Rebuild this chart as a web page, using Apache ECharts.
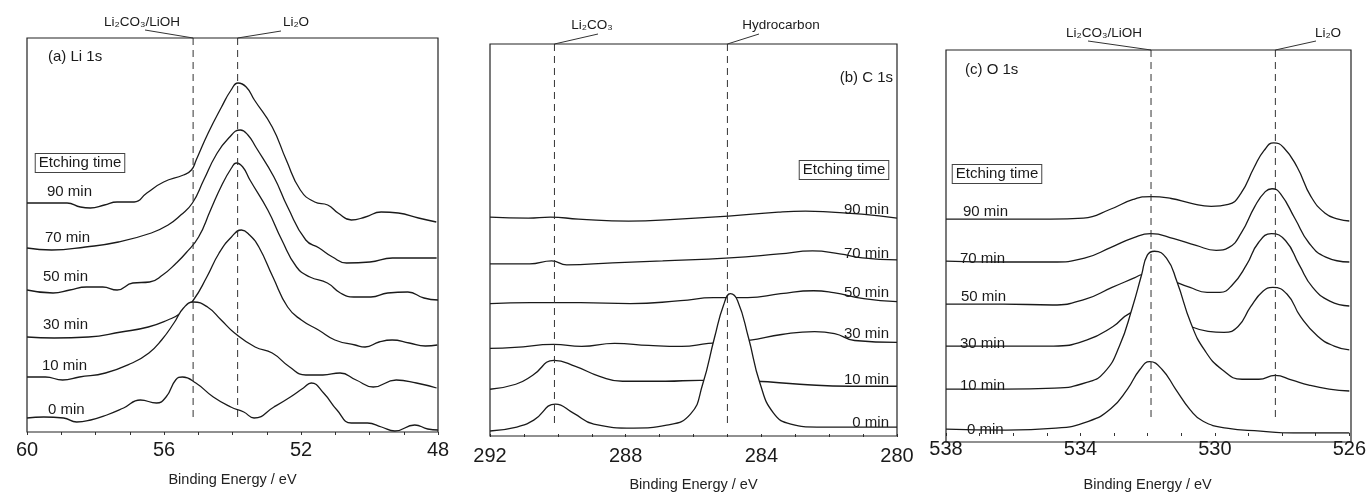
<!DOCTYPE html>
<html><head><meta charset="utf-8">
<script src="https://cdn.jsdelivr.net/npm/echarts@6/dist/echarts.min.js"></script>
<style>html,body{margin:0;padding:0;background:#fff}#c{width:1369px;height:497px}</style>
</head><body><div id="c"></div>
<script>
const FONT = '"Liberation Sans", Arial, Helvetica, sans-serif';
const etchTimes = ['90 min', '70 min', '50 min', '30 min', '10 min', '0 min'];

// ---- (a) Li 1s : [binding energy eV, intensity a.u. incl. offset]
const li_90 = [[60.0,229],[59.33,229],[58.83,229],[58.44,225],[58.15,224],[57.74,227],[57.37,230],[56.87,230],[56.50,239],[56.01,250],[55.43,257],[55.20,262],[55.06,272],[54.71,299],[54.32,325],[54.04,342],[53.84,349],[53.60,345],[53.36,332],[52.84,305],[52.43,272],[52.02,242],[51.60,230],[51.22,227],[50.92,219],[50.53,212],[50.12,215],[49.66,220],[49.16,219],[48.57,214],[48.05,210]];
const li_70 = [[60.0,184],[59.28,182],[58.29,185],[57.33,190],[56.37,199],[55.88,207],[55.51,217],[55.17,229],[54.84,252],[54.48,277],[54.11,294],[53.77,302],[53.55,297],[53.32,285],[52.79,255],[52.39,225],[51.86,192],[51.47,184],[51.08,175],[50.67,169],[49.99,170],[49.33,174],[48.54,174],[48.04,174]];
const li_50 = [[60.0,142],[59.24,139],[58.75,142],[58.26,145],[57.79,145],[57.37,142],[56.91,149],[56.42,150],[56.04,157],[55.64,169],[55.36,179],[54.99,195],[54.64,222],[54.31,247],[54.03,264],[53.89,269],[53.70,265],[53.49,252],[52.97,222],[52.56,192],[52.13,165],[51.74,155],[51.23,149],[50.85,139],[50.46,135],[49.96,135],[49.47,139],[48.88,140],[48.41,134],[48.0,132]];
const li_30 = [[60.0,95],[59.21,94],[58.21,95],[57.25,100],[56.46,105],[55.89,112],[55.51,119],[55.14,132],[54.75,155],[54.39,179],[54.03,195],[53.74,202],[53.50,197],[53.23,185],[52.82,155],[52.39,125],[51.99,112],[51.49,102],[51.01,92],[50.42,87],[50.13,85],[49.72,90],[49.34,92],[48.84,89],[48.37,86],[48.02,87]];
const li_10 = [[60.0,55],[59.46,55],[58.96,52],[58.47,55],[57.71,59],[56.93,69],[56.44,79],[56.07,92],[55.71,109],[55.43,124],[55.14,130],[54.73,125],[54.33,112],[53.94,99],[53.34,85],[52.84,79],[52.33,65],[51.86,57],[51.36,57],[50.86,59],[50.39,52],[49.89,45],[49.22,52],[48.63,49],[48.04,44]];
const li_0 = [[60.0,14],[59.51,15],[58.93,14],[58.55,10],[58.14,12],[57.67,17],[57.18,24],[56.69,32],[56.22,29],[55.94,35],[55.66,52],[55.46,55],[55.07,49],[54.56,35],[54.05,25],[53.67,20],[53.37,14],[52.79,25],[52.31,35],[51.93,44],[51.70,49],[51.34,39],[50.95,22],[50.53,9],[50.06,9],[49.65,5],[49.26,1],[48.68,7],[48.30,3],[48.0,2]];

// ---- (b) C 1s
const c_90 = [[292.0,218],[290.87,217],[290.22,218],[289.39,216],[287.91,214],[286.44,216],[284.97,219],[283.50,223],[282.70,224],[281.93,223],[281.04,221],[280.0,217]];
const c_70 = [[292.0,171],[290.83,171],[290.18,174],[289.74,170],[288.39,172],[286.91,174],[284.93,177],[283.47,181],[282.49,184],[281.69,181],[281.02,177],[280.0,175]];
const c_50 = [[292.0,131],[290.80,132],[290.15,132],[289.33,132],[287.86,131],[286.38,134],[285.41,137],[284.40,137],[283.43,141],[282.46,144],[281.87,142],[280.98,136],[280.0,133]];
const c_30 = [[292.0,86],[291.27,87],[290.12,90],[289.30,88],[288.33,91],[287.32,89],[286.35,88],[285.56,91],[284.37,94],[283.40,100],[282.43,103],[281.84,101],[281.25,94],[280.0,92]];
const c_10 = [[292.0,45],[291.24,50],[290.74,59],[290.11,74],[289.48,68],[288.77,58],[288.09,53],[286.82,53],[285.82,54],[284.16,53],[282.87,50],[281.39,48],[280.0,48]];
const c_0 = [[292.0,3],[291.21,7],[290.71,14],[290.07,30],[289.54,21],[288.94,10],[287.76,6],[286.79,9],[286.09,20],[285.73,50],[285.38,97],[285.11,130],[284.91,141],[284.70,134],[284.38,97],[284.04,51],[283.64,21],[283.13,10],[282.36,7],[280.0,7]];

// ---- (c) O 1s
const o_90 = [[538.0,219],[536.38,219],[534.89,219],[533.91,220],[533.11,229],[532.43,239],[531.90,242],[531.30,240],[530.70,235],[530.11,232],[529.60,234],[529.23,245],[528.83,272],[528.54,289],[528.25,297],[527.95,292],[527.55,272],[527.14,242],[526.72,225],[526.33,219],[526.0,217]];
const o_70 = [[538.0,176],[536.34,175],[534.86,175],[533.88,179],[533.09,190],[532.41,200],[531.91,204],[531.22,199],[530.56,192],[529.96,187],[529.58,190],[529.21,205],[528.81,232],[528.50,247],[528.30,250],[528.05,245],[527.61,219],[527.21,195],[526.70,180],[526.0,175]];
const o_50 = [[538.0,132],[536.31,132],[534.83,131],[533.85,137],[533.06,149],[532.38,159],[532.18,162],[531.90,163],[531.50,160],[531.19,155],[530.74,149],[530.23,144],[529.85,144],[529.47,152],[529.06,172],[528.70,195],[528.32,204],[527.90,197],[527.49,172],[527.09,149],[526.58,135],[526.0,130]];
const o_30 = [[538.0,89],[536.28,89],[534.80,89],[533.82,95],[533.03,109],[532.56,122],[531.90,128],[531.30,120],[530.71,109],[530.20,104],[529.73,103],[529.31,109],[528.94,129],[528.57,145],[528.28,149],[527.85,142],[527.45,119],[526.94,99],[526.45,89],[526.0,85]];
const o_10 = [[538.0,45],[536.25,45],[534.77,46],[533.79,52],[533.29,62],[532.84,89],[532.45,129],[532.18,162],[532.01,182],[531.80,186],[531.44,179],[531.13,155],[530.71,112],[530.31,85],[529.79,65],[529.19,55],[528.69,55],[528.21,59],[527.70,54],[527.20,49],[526.60,45],[526.0,43]];
const o_0 = [[538.0,4],[536.22,3],[534.73,5],[533.76,12],[533.09,25],[532.60,45],[532.23,65],[531.94,73],[531.57,65],[531.17,45],[530.74,24],[530.35,12],[529.65,5],[528.64,2],[527.67,0],[526.0,0]];

// ---- axes / reference lines
const liTicks = [60, 56, 52, 48];
const cTicks = [292, 288, 284, 280];
const oTicks = [538, 534, 530, 526];
const liRefs = [55.15, 53.85];
const cRefs = [290.1, 285.0];
const oRefs = [531.9, 528.2];
const liRefNames = ['Li₂CO₃/LiOH', 'Li₂O'];
const cRefNames = ['Li₂CO₃', 'Hydrocarbon'];
const oRefNames = ['Li₂CO₃/LiOH', 'Li₂O'];
const panelTitles = ['(a) Li 1s', '(b) C 1s', '(c) O 1s'];
const axisTitle = 'Binding Energy / eV';

// ---- layout (pixels)
const panels = [
  { grid:{left:27, top:38, width:411, height:394}, min:48, max:60, ymax:394, refBottom:12, ticks:liTicks,
    sets:[li_90,li_70,li_50,li_30,li_10,li_0], refs:liRefs, refNames:liRefNames, labelMargin:8, nameGap:40,
    title:{x:48,y:57,align:'left'}, etch:{x:80,y:163},
    times:{align:'left', pos:[[47,192],[45,238],[43,277],[43,325],[42,366],[48,410]]},
    callouts:[{tx:142,ty:22,lx:145,ly:30},{tx:296,ty:22,lx:281,ly:31}] },
  { grid:{left:490, top:44, width:407, height:392}, min:280, max:292, ymax:392, refBottom:8, ticks:cTicks,
    sets:[c_90,c_70,c_50,c_30,c_10,c_0], refs:cRefs, refNames:cRefNames, labelMargin:12, nameGap:43,
    title:{x:893,y:78,align:'right'}, etch:{x:844,y:170},
    times:{align:'right', pos:[[889,210],[889,254],[889,293],[889,334],[889,380],[889,423]]},
    callouts:[{tx:592,ty:25,lx:598,ly:34},{tx:781,ty:25,lx:759,ly:34}] },
  { grid:{left:946, top:50, width:405, height:392}, min:526, max:538, ymax:392, refBottom:13, ticks:oTicks,
    sets:[o_90,o_70,o_50,o_30,o_10,o_0], refs:oRefs, refNames:oRefNames, labelMargin:6, nameGap:44,
    title:{x:965,y:70,align:'left'}, etch:{x:997,y:174},
    times:{align:'left', pos:[[963,212],[960,259],[961,297],[960,344],[960,386],[967,430]]},
    callouts:[{tx:1104,ty:33,lx:1088,ly:41},{tx:1328,ty:33,lx:1316,ly:41}] }
];

const grids = [], xAxes = [], yAxes = [], series = [];
panels.forEach((p, i) => {
  grids.push(Object.assign({ show:false }, p.grid));
  const minor = [];
  for (let v = p.min; v <= p.max; v++) minor.push(v);
  xAxes.push({
    gridIndex:i, type:'value', min:p.min, max:p.max, inverse:true,
    axisLine:{show:false}, splitLine:{show:false},
    axisTick:{show:true, inside:false, length:3, customValues:minor, lineStyle:{color:'#333', width:1}},
    axisLabel:{show:true, customValues:p.ticks, fontSize:20, color:'#1a1a1a', fontFamily:FONT, margin:p.labelMargin},
    name:axisTitle, nameLocation:'middle', nameGap:p.nameGap,
    nameTextStyle:{fontSize:14.5, color:'#222', fontFamily:FONT}
  });
  yAxes.push({ gridIndex:i, type:'value', min:0, max:p.ymax, show:false });
  p.sets.forEach((d, k) => {
    series.push({
      type:'line', xAxisIndex:i, yAxisIndex:i, name:etchTimes[k], data:d,
      smooth:0.5, symbol:'none', showSymbol:false, silent:true, z:2 + k,
      lineStyle:{color:'#1a1a1a', width:1.3},
      areaStyle:{color:'#ffffff', opacity:1, origin:'start'}
    });
  });
  p.refs.forEach(r => {
    series.push({
      type:'line', xAxisIndex:i, yAxisIndex:i, data:[[r, p.ymax], [r, p.refBottom]],
      symbol:'none', showSymbol:false, silent:true, z:20,
      lineStyle:{color:'#333', width:1, type:[7, 5]}
    });
  });
});

const chart = echarts.init(document.getElementById('c'), null, {renderer:'canvas'});
chart.setOption({
  animation:false, backgroundColor:'#ffffff',
  grid:grids, xAxis:xAxes, yAxis:yAxes, series:series
});

// annotations
const g = [];
const txt = (text, x, y, align, size, extra) => Object.assign({
  type:'text', x:x, y:y, z:100, silent:true,
  style:Object.assign({ text:text, fill:'#1a1a1a', font:size + 'px ' + FONT, align:align, verticalAlign:'middle' }, extra || {})
});
panels.forEach((p, i) => {
  g.push({ type:'rect', z:90, silent:true,
    shape:{ x:p.grid.left, y:p.grid.top, width:p.grid.width, height:p.grid.height },
    style:{ fill:'none', stroke:'#222', lineWidth:1.2 } });
  g.push(txt(panelTitles[i], p.title.x, p.title.y, p.title.align, 15));
  g.push(txt('Etching time', p.etch.x, p.etch.y, 'center', 15,
    { backgroundColor:'#fff', borderColor:'#444', borderWidth:1, padding:[2, 3, 1, 3] }));
  etchTimes.forEach((t, k) => {
    const pos = p.times.pos[k];
    g.push(txt(t, pos[0], pos[1], p.times.align, 15));
  });
  p.refs.forEach((r, k) => {
    const c = p.callouts[k];
    const top = chart.convertToPixel({ gridIndex:i }, [r, p.ymax]);
    g.push(txt(p.refNames[k], c.tx, c.ty, 'center', 13.5));
    g.push({ type:'line', z:100, silent:true,
      shape:{ x1:c.lx, y1:c.ly, x2:top[0], y2:top[1] },
      style:{ stroke:'#333', lineWidth:1 } });
  });
});
chart.setOption({ graphic:g });
</script>
</body></html>
